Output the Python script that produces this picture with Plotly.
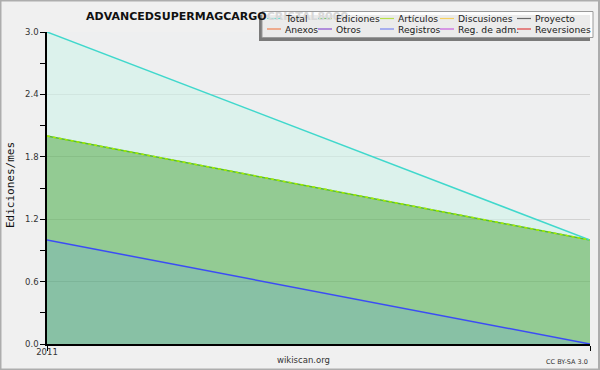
import plotly.graph_objects as go

# ---- data ----
months = ["2011-01-01", "2011-02-01"]
x_tick_labels = ["2011", ""]
total = [3, 1]
ediciones = [2, 1]
articulos = [2, 1]
registros = [1, 0]

legend_labels = ["Total", "Ediciones", "Artículos", "Discusiones", "Proyecto",
                 "Anexos", "Otros", "Registros", "Reg. de adm.", "Reversiones"]
legend_colors = ["#6fe0d4", "#6cc46c", "#b8e04a", "#f5d060", "#666666",
                 "#f08050", "#8a4fd0", "#7a86f0", "#c860e0", "#e04040"]

title_main = "ADVANCEDSUPERMAGCARGO"
title_hidden = "CRISTAL8000"

W, H = 600, 370
L, R, T, B = 47, 10, 32, 26
PW, PH = W - L - R, H - T - B


def px(xp):
    return (xp - L) / PW


def py(yp):
    return (H - B - yp) / PH


fig = go.Figure()
fig.add_trace(go.Scatter(x=months, y=registros, mode="lines", name="Registros",
                         line=dict(color="#3b4cf5", width=1.5),
                         fill="tozeroy", fillcolor="rgba(68,161,115,0.6)"))
fig.add_trace(go.Scatter(x=months, y=ediciones, mode="lines", name="Ediciones",
                         line=dict(color="#55bb33", width=1.5),
                         fill="tonexty", fillcolor="rgba(86,179,85,0.6)"))
fig.add_trace(go.Scatter(x=months, y=total, mode="lines", name="Total",
                         line=dict(color="#40d8cc", width=1.5),
                         fill="tonexty", fillcolor="rgba(208,244,233,0.6)"))
fig.add_trace(go.Scatter(x=months, y=articulos, mode="lines", name="Artículos",
                         line=dict(color="#a6ee00", width=1.5, dash="3px,3px"),
                         fill="none"))

shapes = []
annotations = []

# outer border
shapes.append(dict(type="rect", xref="paper", yref="paper",
                   x0=px(0.5), x1=px(599), y0=py(0.5), y1=py(369.5),
                   line=dict(color="#adadad", width=2), fillcolor="rgba(0,0,0,0)",
                   layer="above"))

# title (the part behind the legend box appears faded)
annotations.append(dict(
    text="<b>" + title_main + "<span style='color:#d8d8d8'>" + title_hidden + "</span></b>",
    xref="paper", yref="paper", x=px(84), y=py(17), xanchor="left", yanchor="middle",
    showarrow=False, font=dict(family="DejaVu Sans", size=11, color="#111111")))

# legend box shadow + box
shapes.append(dict(type="rect", xref="paper", yref="paper",
                   x0=px(259), x1=px(590), y0=py(15), y1=py(41),
                   line=dict(width=0), fillcolor="#7a7a7a", layer="above"))
shapes.append(dict(type="rect", xref="paper", yref="paper",
                   x0=px(262), x1=px(593), y0=py(11.5), y1=py(37.5),
                   line=dict(color="#9a9a9a", width=1),
                   fillcolor="rgba(255,255,255,0.85)", layer="above"))

col_x = [267, 318, 380, 440, 517]
row_y = [18.5, 29]
for i, (lab, col) in enumerate(zip(legend_labels, legend_colors)):
    cx = col_x[i % 5]
    ry = row_y[i // 5]
    shapes.append(dict(type="line", xref="paper", yref="paper",
                       x0=px(cx), x1=px(cx + 14), y0=py(ry), y1=py(ry),
                       line=dict(color=col, width=1.2), layer="above"))
    annotations.append(dict(text=lab, xref="paper", yref="paper",
                            x=px(cx + 16), y=py(ry), xanchor="left", yanchor="middle",
                            showarrow=False,
                            font=dict(family="DejaVu Sans", size=9.2, color="#222222")))

# y axis title
annotations.append(dict(text="Ediciones/mes", xref="paper", yref="paper",
                        x=px(10), y=py(185), textangle=-90, showarrow=False,
                        xanchor="center", yanchor="middle",
                        font=dict(family="DejaVu Sans Mono", size=11, color="#111111")))
# footer
annotations.append(dict(text="wikiscan.org", xref="paper", yref="paper",
                        x=px(303), y=py(360), showarrow=False,
                        xanchor="center", yanchor="middle",
                        font=dict(family="DejaVu Sans", size=8.5, color="#333333")))
annotations.append(dict(text="CC BY-SA 3.0", xref="paper", yref="paper",
                        x=px(590), y=py(362), showarrow=False,
                        xanchor="right", yanchor="middle",
                        font=dict(family="DejaVu Sans", size=6.5, color="#333333")))

fig.update_layout(
    width=W, height=H,
    margin=dict(l=L, r=R, t=T, b=B, pad=0),
    paper_bgcolor="#f0f0f0",
    plot_bgcolor="#eeeff0",
    showlegend=False,
    shapes=shapes,
    annotations=annotations,
    xaxis=dict(type="date", range=[months[0], months[-1]],
               tickvals=months, ticktext=x_tick_labels,
               ticks="outside", ticklen=5, tickcolor="#000000",
               showline=True, linecolor="#000000", linewidth=1.5,
               showgrid=False, zeroline=False,
               ticklabelstandoff=-6,
               tickfont=dict(family="DejaVu Sans", size=8.5, color="#333333")),
    yaxis=dict(range=[0, 3], dtick=0.6, tick0=0, tickformat=".1f",
               ticks="outside", ticklen=5, tickcolor="#000000",
               showline=True, linecolor="#000000", linewidth=1.5,
               showgrid=True, gridcolor="#d2d2d2", gridwidth=1,
               zeroline=False,
               minor=dict(dtick=0.3, tick0=0, ticks="outside", ticklen=5,
                          tickcolor="#000000", showgrid=False),
               tickfont=dict(family="DejaVu Sans", size=8.5, color="#333333")),
)

fig.write_html("out.html",
               config={"displayModeBar": False},
               post_script="document.body.style.margin='0';document.body.style.padding='0';")
